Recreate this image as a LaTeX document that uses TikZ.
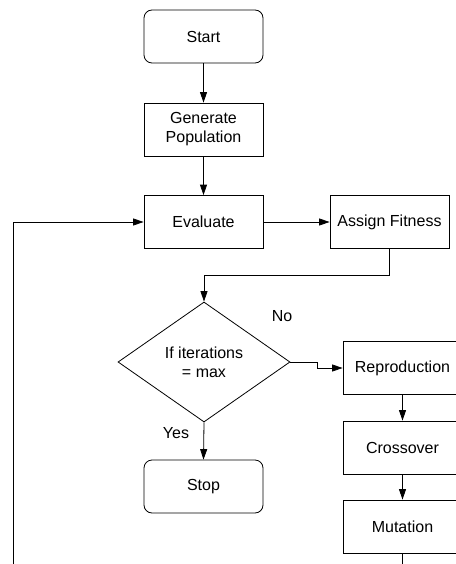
\documentclass[tikz,border=0pt]{standalone}
\usepackage{fontspec}
\setmainfont{Liberation Sans}
\usepackage{tikz}
\usetikzlibrary{shapes.geometric,arrows.meta}
\tikzset{
  terminal/.style={draw=black, line width=0.8pt, rounded corners=8pt, minimum width=119pt, minimum height=53pt, align=center},
  process/.style={draw=black, line width=0.8pt, minimum width=119pt, minimum height=53pt, align=center},
  decision/.style={draw=black, line width=0.8pt, diamond, minimum width=172pt, minimum height=120pt, inner sep=0pt, align=center},
  label/.style={black},
  arrow/.style={-{Triangle[length=10.5pt,width=7pt]}, draw=black, line width=0.8pt}
}

\begin{document}
\begin{tikzpicture}[x=1pt, y=-1pt, font=\fontsize{16pt}{19pt}\selectfont]
  \useasboundingbox (0,0) rectangle (455,564);
  \node[terminal] (start) at (203.5,36.5) {Start};
  \node[process] (gen) at (203.5,129.5) {Generate\\Population};
  \node[process] (eval) at (203.5,222) {Evaluate};
  \node[process] (fit) at (389.5,222) {Assign Fitness};
  \node[decision] (dec) at (204,362) {If iterations\\= max};
  \node[process] (repr) at (402.5,368) {Reproduction};
  \node[process] (cross) at (402.5,447.5) {Crossover};
  \node[process] (mut) at (402.5,526.5) {Mutation};
  \node[terminal] (stop) at (203.5,486.5) {Stop};
  \node[label] (no) at (282,316) {No};
  \node[label] (yes) at (176,433) {Yes};
  \coordinate (loop) at (13,590);
  \draw[arrow] (start) -- (gen);
  \draw[arrow] (gen) -- (eval);
  \draw[arrow] (eval) -- (fit);
  \draw[arrow] (fit.south) -- ++(0,26) -| (dec.north);
  \draw[arrow] (dec.east) -- ++(27,0) |- (repr.west);
  \draw[arrow] (dec.south) -- (stop.north);
  \draw[arrow] (repr) -- (cross);
  \draw[arrow] (cross) -- (mut);
  \draw[arrow] (mut.south) |- (loop) |- (eval.west);
\end{tikzpicture}
\end{document}
